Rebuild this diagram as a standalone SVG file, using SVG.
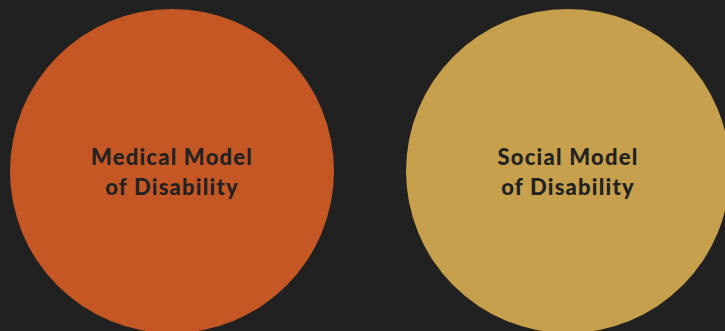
<svg xmlns="http://www.w3.org/2000/svg" width="725" height="331" viewBox="0 0 725 331">
<style>
.lbl{font-family:Lato,"Open Sans","Liberation Sans",sans-serif;font-weight:900;font-size:22px;letter-spacing:1.2px;fill:#222222;text-anchor:middle}
</style>
<rect x="0" y="0" width="725" height="331" fill="#212121"/>
<g id="medical">
<circle cx="172" cy="171" r="162" fill="#C55725"/>
<text class="lbl" x="172" y="165">Medical Model</text>
<text class="lbl" x="172" y="195">of Disability</text>
</g>
<g id="social">
<circle cx="568" cy="171" r="162" fill="#C6A04C"/>
<text class="lbl" x="568" y="165">Social Model</text>
<text class="lbl" x="568" y="195">of Disability</text>
</g>
<g id="connectors"></g>
</svg>
